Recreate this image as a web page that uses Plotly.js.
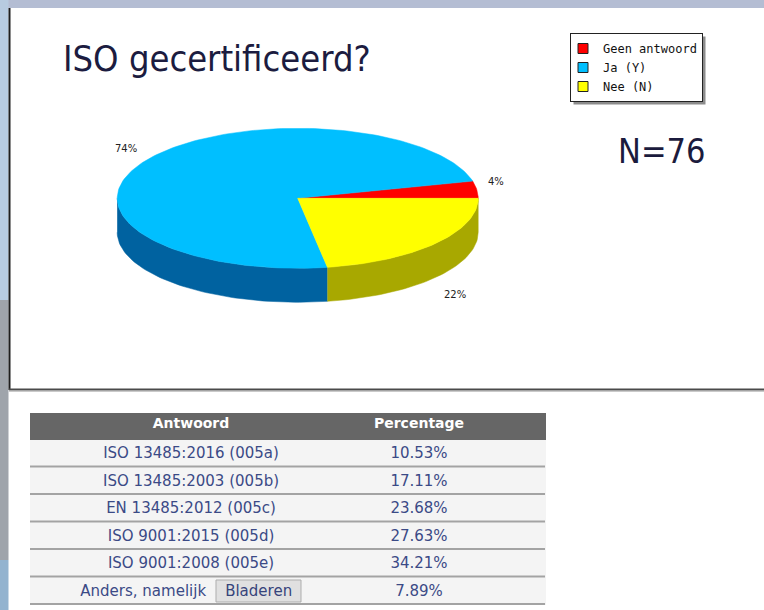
<!DOCTYPE html>
<html><head><meta charset="utf-8">
<script src="https://cdn.plot.ly/plotly-3.0.1.min.js"></script>
<style>html,body{margin:0;padding:0;background:#fff;overflow:hidden}#chart{width:764px;height:610px}</style>
</head><body><div id="chart"></div>
<script>
// ---------------- data ----------------
const pieLabels = ['Geen antwoord', 'Ja (Y)', 'Nee (N)'];
const pieCounts = [3, 56, 17];
const pieColors = ['#FF0000', '#00BFFF', '#FFFF00'];
const pieSideColors = ['#A00000', '#0062A0', '#A8A800'];
const chartTitle = 'ISO gecertificeerd?';
const sampleLabel = 'N=76';

const tableHeader = ['Antwoord', 'Percentage'];
const tableAnswers = ['ISO 13485:2016 (005a)', 'ISO 13485:2003 (005b)', 'EN 13485:2012 (005c)',
                      'ISO 9001:2015 (005d)', 'ISO 9001:2008 (005e)', 'Anders, namelijk'];
const tablePercent = [10.53, 17.11, 23.68, 27.63, 34.21, 7.89];
const buttonLabel = 'Bladeren';

// ---------------- layout constants ----------------
const W = 764, H = 610;
const CX = 297.7, CY = 198.3, RX = 180.5, RY = 70, DEPTH = 34;
const TITLE_FONT = 'DejaVu Sans Condensed, Open Sans, DejaVu Sans, sans-serif';
const TABLE_TOP = 413, HEADER_H = 26, ROW_H = 27.5, TABLE_X0 = 30, TABLE_X1 = 545;
const HEADER_SHIFT = 6; // plotly header grows to fit its text; shift up and mask

const total = pieCounts.reduce((a, b) => a + b, 0);
let acc = 0;
const slices = pieCounts.map((v, i) => {
  const sweep = v / total * 360;
  const s = {i: i, a0: acc, a1: acc + sweep, v: v};
  acc += sweep;
  return s;
});
function pt(a, dy) {
  const r = a * Math.PI / 180;
  return [CX + RX * Math.cos(r), CY - RY * Math.sin(r) + (dy || 0)];
}
function arc(a0, a1, dy) {
  const n = Math.max(2, Math.ceil(Math.abs(a1 - a0) / 1.5));
  const xs = [], ys = [];
  for (let k = 0; k <= n; k++) {
    const p = pt(a0 + (a1 - a0) * k / n, dy);
    xs.push(p[0]); ys.push(p[1]);
  }
  return [xs, ys];
}

const traces = [];
// side walls (front half only)
slices.forEach(s => {
  const s0 = Math.max(s.a0, 180), s1 = Math.min(s.a1, 360);
  if (s1 <= s0) return;
  const top = arc(s0, s1, 0), bot = arc(s1, s0, DEPTH);
  traces.push({type: 'scatter', mode: 'lines', x: top[0].concat(bot[0]), y: top[1].concat(bot[1]),
    fill: 'toself', fillcolor: pieSideColors[s.i], line: {width: 0.5, color: pieSideColors[s.i]},
    showlegend: false, hoverinfo: 'skip'});
});
// top faces
slices.forEach(s => {
  const a = arc(s.a0, s.a1, 0);
  traces.push({type: 'scatter', mode: 'lines', x: [CX].concat(a[0], [CX]), y: [CY].concat(a[1], [CY]),
    fill: 'toself', fillcolor: pieColors[s.i], line: {width: 0.5, color: pieColors[s.i]},
    showlegend: false, hoverinfo: 'skip'});
});
// legend entries
pieLabels.forEach((l, i) => {
  traces.push({type: 'scatter', mode: 'markers', x: [null], y: [null], name: l,
    marker: {symbol: 'square', size: 10, color: pieColors[i], line: {color: '#222', width: 1}},
    hoverinfo: 'skip'});
});
// table
const nb = n => '\u00a0'.repeat(n);
const answerText = tableAnswers.map((t, i) => i === tableAnswers.length - 1
  ? t.replace(/ /g, '\u00a0') + nb(4) + buttonLabel + nb(2)
  : t);
traces.push({type: 'table',
  domain: {x: [TABLE_X0 / W, TABLE_X1 / W], y: [0, (H - TABLE_TOP + HEADER_SHIFT) / H]},
  columnwidth: [322, 134, 59],
  header: {values: tableHeader.map(h => '<b>' + h + '</b>').concat(['']), height: HEADER_H,
    fill: {color: '#666666'}, line: {color: '#666666', width: 1}, align: 'center',
    font: {family: 'DejaVu Sans', size: 14, color: '#ffffff'}},
  cells: {values: [answerText, tablePercent.map(v => v.toFixed(2) + '%'), tableAnswers.map(() => '')],
    height: ROW_H, fill: {color: '#F4F4F4'}, line: {color: '#F4F4F4', width: 1}, align: 'center',
    font: {family: 'DejaVu Sans', size: 15, color: '#3B4A86'}}
});

// annotations: pie labels
const annotations = slices.map(s => {
  const m = (s.a0 + s.a1) / 2, r = m * Math.PI / 180;
  const c = Math.cos(r), sn = Math.sin(r);
  return {xref: 'x', yref: 'y', showarrow: false,
    x: CX + 1.05 * RX * c, y: CY - (sn >= 0 ? 1.1 : 1.2) * RY * sn + (sn < 0 ? DEPTH : 0),
    xanchor: c >= 0 ? 'left' : 'right', yanchor: sn >= 0 ? 'bottom' : 'top',
    text: Math.round(s.v / total * 100) + '%',
    font: {family: 'DejaVu Sans', size: 10, color: '#222'}};
});
annotations.push({xref: 'x', yref: 'y', x: 661, y: 151, showarrow: false, xanchor: 'center', yanchor: 'middle',
  text: sampleLabel, font: {family: TITLE_FONT, size: 34, color: '#1B1B3D'}});

// shapes: frame, table separators, button
const shapes = [
  {type: 'rect', xref: 'x', yref: 'y', x0: 0, x1: W, y0: 0, y1: 8, fillcolor: '#B4BDD3', line: {width: 0}, layer: 'below'},
  {type: 'rect', xref: 'x', yref: 'y', x0: 0, x1: 8.5, y0: 0, y1: 300, fillcolor: '#B7CBE0', line: {width: 0}, layer: 'below'},
  {type: 'rect', xref: 'x', yref: 'y', x0: 0, x1: 8.5, y0: 300, y1: 560, fillcolor: '#9FA4AB', line: {width: 0}, layer: 'below'},
  {type: 'rect', xref: 'x', yref: 'y', x0: 0, x1: 8.5, y0: 560, y1: H, fillcolor: '#93B3CF', line: {width: 0}, layer: 'below'},
  {type: 'line', xref: 'x', yref: 'y', x0: 9.5, x1: 9.5, y0: 8, y1: 390, line: {color: '#1E1E1E', width: 2}, layer: 'below'},
  {type: 'line', xref: 'x', yref: 'y', x0: 9, x1: W, y0: 389.5, y1: 389.5, line: {color: '#4A4A4A', width: 2}, layer: 'below'},
  {type: 'line', xref: 'x', yref: 'y', x0: 9, x1: W, y0: 391.5, y1: 391.5, line: {color: '#CACACA', width: 1}, layer: 'below'},
  {type: 'rect', xref: 'x', yref: 'y', x0: TABLE_X0 - 2, x1: TABLE_X1 + 2, y0: TABLE_TOP - HEADER_SHIFT - 2, y1: TABLE_TOP,
    fillcolor: '#ffffff', line: {width: 0}, layer: 'above'}
];
for (let k = 1; k <= tableAnswers.length; k++) {
  const y = TABLE_TOP + HEADER_H + ROW_H * k;
  shapes.push({type: 'line', xref: 'x', yref: 'y', x0: TABLE_X0, x1: TABLE_X1, y0: y, y1: y,
    line: {color: '#A3A3A3', width: 2}, layer: 'above'});
}
shapes.push({type: 'rect', xref: 'x', yref: 'y', x0: 216, x1: 301, y0: 580, y1: 602,
  fillcolor: 'rgba(0,0,0,0.08)', line: {color: '#ADADAD', width: 1}, layer: 'above'});

const layout = {
  width: W, height: H, margin: {l: 0, r: 0, t: 0, b: 0},
  paper_bgcolor: '#ffffff', plot_bgcolor: 'rgba(0,0,0,0)',
  title: {text: chartTitle, xref: 'paper', yref: 'paper', x: 63 / W, xanchor: 'left', y: 1 - 58 / H, yanchor: 'middle',
    font: {family: TITLE_FONT, size: 36, color: '#1C1C40'}},
  xaxis: {range: [0, W], domain: [0, 1], visible: false, fixedrange: true},
  yaxis: {range: [H, 0], domain: [0, 1], visible: false, fixedrange: true},
  showlegend: true,
  legend: {x: 703 / W, xanchor: 'right', y: 1 - 33 / H, yanchor: 'top', bgcolor: '#ffffff',
    bordercolor: '#222', borderwidth: 1, indentation: -8,
    font: {family: 'DejaVu Sans Mono', size: 12, color: '#111'}},
  shapes: shapes, annotations: annotations
};

Plotly.newPlot('chart', traces, layout, {staticPlot: true}).then(gd => {
  const bg = gd.querySelector('.legend .bg');
  if (!bg) return;
  const r = bg.getBoundingClientRect(), c = gd.getBoundingClientRect();
  const x0 = r.left - c.left, y0 = r.top - c.top;
  const sh = layout.shapes.slice();
  sh.splice(7, 0, {type: 'rect', xref: 'x', yref: 'y', x0: x0 + 3, x1: x0 + r.width + 3, y0: y0 + 3, y1: y0 + r.height + 3,
    fillcolor: '#8C8C8C', line: {width: 0}, layer: 'below'});
  return Plotly.relayout(gd, {shapes: sh});
});
</script>
</body></html>
